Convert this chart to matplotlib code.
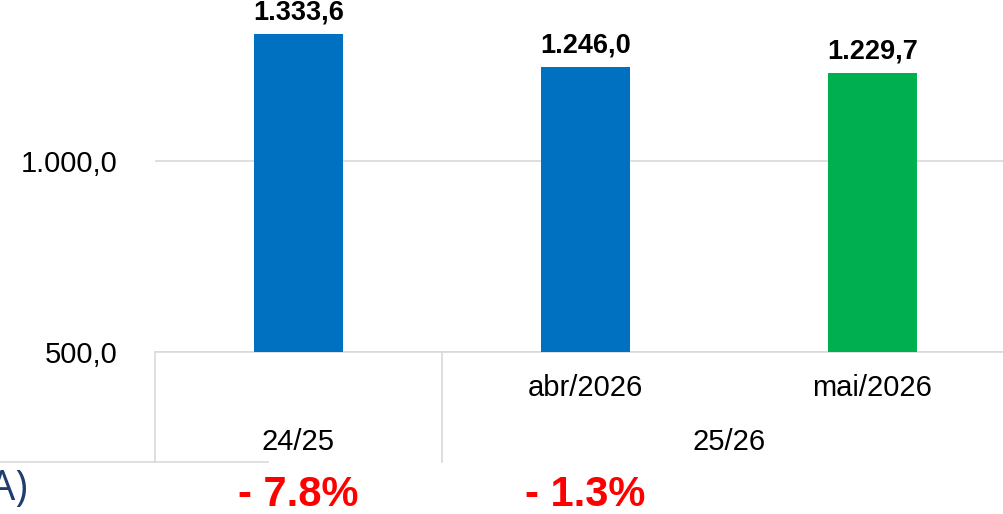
import matplotlib
matplotlib.use("Agg")
import matplotlib.pyplot as plt
import matplotlib.transforms as mtransforms
from matplotlib.lines import Line2D

# data
months = ["", "abr/2026", "mai/2026"]
values = [1333.6, 1246.0, 1229.7]
bar_colors = ["#0070C0", "#0070C0", "#00B050"]
seasons = ["24/25", "25/26"]
season_pos = [0, 1.5]
changes = ["- 7.8%", "- 1.3%"]
change_pos = [0, 1]
yticks = [500, 1000]

W, H = 1004, 514


def br_fmt(v, dec=1):
    s = f"{v:,.{dec}f}"
    return s.replace(",", "X").replace(".", ",").replace("X", ".")


def main():
    plt.rcParams["font.family"] = ["Liberation Sans", "DejaVu Sans"]
    fig = plt.figure(figsize=(W / 100, H / 100), dpi=100)
    ax = fig.add_axes([155 / W, 162 / H, (1016 - 155) / W, 352 / H])

    x = list(range(len(values)))
    bars = ax.bar(x, values, width=0.31, color=bar_colors, zorder=3)
    ax.set_xlim(-0.5, 2.5)
    ax.set_ylim(500, 1421.5)

    for b, v in zip(bars, values):
        ax.annotate(br_fmt(v), (b.get_x() + b.get_width() / 2, v),
                    xytext=(0, 6), textcoords="offset points",
                    ha="center", va="bottom", fontsize=19.5,
                    fontweight="bold", color="black", zorder=4)

    ax.set_yticks(yticks)
    ax.set_yticklabels([br_fmt(t) for t in yticks], fontsize=21)
    ax.tick_params(axis="y", length=0, pad=27)
    ax.grid(axis="y", color="#D9D9D9", linewidth=1.2, zorder=0)

    ax.set_xticks([])
    for s in ["top", "right", "left"]:
        ax.spines[s].set_visible(False)
    ax.spines["bottom"].set_color("#D9D9D9")
    ax.spines["bottom"].set_linewidth(1.2)

    # two-level category axis
    trans = mtransforms.blended_transform_factory(ax.transData, fig.transFigure)
    for i, m in enumerate(months):
        if m:
            ax.text(i, (H - 388) / H, m, transform=trans, ha="center",
                    va="center", fontsize=21)
    for p, s in zip(season_pos, seasons):
        ax.text(p, (H - 442) / H, s, transform=trans, ha="center",
                va="center", fontsize=21)
    for xb in [-0.5, 0.5]:
        ax.add_line(Line2D([xb, xb], [(H - 352) / H, (H - 462) / H],
                           transform=trans, color="#D9D9D9", lw=1.2,
                           clip_on=False))

    fig.add_artist(Line2D([0, 268 / W], [(H - 462) / H] * 2,
                          color="#D9D9D9", lw=1.2))

    for p, c in zip(change_pos, changes):
        ax.text(p, (H - 506) / H, c, transform=trans, ha="center",
                va="baseline", fontsize=30, fontweight="bold", color="#FF0000")

    fig.text(28 / W, (H - 500) / H, "A)", ha="right", va="baseline",
             fontsize=30, color="#1F3D6E", family=["Open Sans", "DejaVu Sans"])

    fig.savefig("out.png", dpi=100)
    plt.close(fig)


if __name__ == "__main__":
    main()
